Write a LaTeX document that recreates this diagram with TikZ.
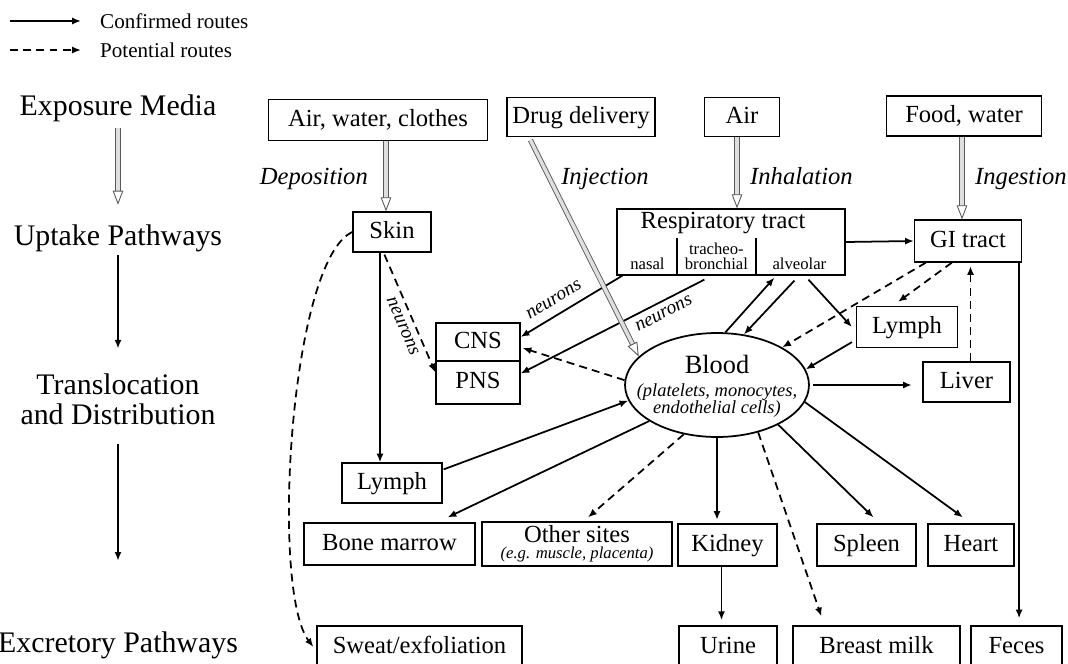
\documentclass[tikz,border=0pt]{standalone}
\usepackage{fontspec}
\setmainfont{Liberation Serif}
\usetikzlibrary{arrows.meta, calc, shapes.geometric}

\tikzset{
  box/.style={draw, line width=0.7pt, inner sep=0pt, text height=10pt, text depth=3pt,
    font=\fontsize{14}{16}\selectfont},
  stage/.style={font=\fontsize{17}{17}\selectfont, align=center, inner sep=2pt},
  route/.style={font=\itshape\fontsize{14}{16}\selectfont, text height=10pt, text depth=3pt},
  sublbl/.style={font=\fontsize{9.5}{8.5}\selectfont, align=center, inner sep=0pt},
  nrn/.style={font=\itshape\fontsize{11}{12}\selectfont, inner sep=3.5pt},
  conf/.style={line width=1pt, -{Latex[length=5pt,width=4pt]}},
  pot/.style={conf, dash pattern=on 4.5pt off 3pt},
  uptake/.style={draw=gray!70!black, line width=0.5pt, double=gray!25, double distance=2pt,
    -{Triangle[open, length=8pt, width=6pt]}},
}

\begin{document}
\begin{tikzpicture}[x=0.02cm, y=-0.02cm]
  \useasboundingbox (0,0) rectangle (1068,663);
  \clip (0,0) rectangle (1068,663);

  % Legend
  \coordinate (legConfA) at (10,21);
  \coordinate (legConfB) at (81,21);
  \coordinate (legPotA) at (10,50);
  \coordinate (legPotB) at (81,50);
  \draw[conf] (legConfA) -- (legConfB);
  \draw[pot] (legPotA) -- (legPotB);
  \node[anchor=west, font=\fontsize{12}{14}\selectfont] (legConf) at (94,21) {Confirmed routes};
  \node[anchor=west, font=\fontsize{12}{14}\selectfont] (legPot) at (94,50) {Potential routes};

  % Stages (left column)
  \node[stage] (stExp) at (118,108.5) {Exposure Media};
  \node[stage] (stUp) at (118,238) {Uptake Pathways};
  \node[stage] (stTrans) at (118,399) {Translocation\\and Distribution};
  \node[stage] (stExc) at (118,645) {Excretory Pathways};
  \draw[uptake, shorten <=1pt, shorten >=9pt] (stExp) -- (stUp);
  \draw[conf, shorten >=12pt] (stUp) -- (stTrans);
  \draw[conf, shorten <=9pt, shorten >=38pt] (stTrans) -- (stExc);

  % Exposure media
  \node[box, minimum width=4.38cm, minimum height=0.82cm] (airwc) at (378,120) {Air, water, clothes};
  \node[box, minimum width=2.96cm, minimum height=0.78cm] (drug) at (581,117) {Drug delivery};
  \node[box, minimum width=1.5cm, minimum height=0.78cm] (air) at (742,117) {Air};
  \node[box, minimum width=3.1cm, minimum height=0.8cm] (food) at (964,116) {Food, water};

  % Route labels
  \node[route, anchor=east] (lDep) at (374,178) {Deposition};
  \node[route] (lInj) at (605,178) {Injection};
  \node[route, anchor=west] (lInh) at (744,178) {Inhalation};
  \node[route, anchor=west] (lIng) at (969,178) {Ingestion};

  % Uptake pathways
  \node[box, minimum width=1.56cm, minimum height=0.8cm] (skin) at (392,232) {Skin};
  \node[box, minimum width=4.56cm, minimum height=1.32cm] (resp) at (731,242) {};
  \node[inner sep=0pt, font=\fontsize{14}{16}\selectfont] (respT) at ($(resp.north)+(-8,15)$) {Respiratory tract};
  \draw[line width=1.2pt] ($(resp.south west)+(61,0)$) -- ++(0,-38);
  \draw[line width=1.2pt] ($(resp.south west)+(140,0)$) -- ++(0,-38);
  \node[sublbl] (nasal) at ($(resp.south west)+(31,-12)$) {nasal};
  \node[sublbl] (trach) at ($(resp.south west)+(100,-19)$) {tracheo-\\bronchial};
  \node[sublbl] (alv) at ($(resp.south west)+(183,-12)$) {alveolar};
  \node[box, minimum width=2.14cm, minimum height=0.84cm] (gi) at (968,241) {GI tract};

  % Translocation and distribution
  \node[box, minimum width=1.68cm, minimum height=0.76cm] (cns) at (478,342) {CNS};
  \node[box, minimum width=1.68cm, minimum height=0.86cm] (pns) at (478,382.5) {PNS};
  \node[draw, ellipse, line width=1pt, minimum width=3.68cm, minimum height=2.08cm, inner sep=0pt] (blood) at (717,385) {};
  \node[align=center, inner sep=0pt, font=\fontsize{15}{16}\selectfont] (bloodT) at (717,386)
    {Blood\\[-3pt]{\itshape\fontsize{10.5}{10}\selectfont (platelets, monocytes,}\\[-6.4pt]{\itshape\fontsize{10.5}{10}\selectfont endothelial cells)}};
  \node[box, minimum width=2.02cm, minimum height=0.82cm] (lymphA) at (907,327) {Lymph};
  \node[box, minimum width=1.74cm, minimum height=0.8cm] (liver) at (966.5,382) {Liver};
  \node[box, minimum width=2cm, minimum height=0.8cm] (lymphB) at (392,483) {Lymph};
  \node[box, minimum width=3.42cm, minimum height=0.84cm] (bone) at (389.5,544) {Bone marrow};
  \node[box, minimum width=3.8cm, minimum height=0.88cm, text height=, text depth=, align=center] (other) at (577,544)
    {Other sites\\[-7pt]{\itshape\fontsize{9.5}{9}\selectfont (e.g. muscle, placenta)}};
  \node[box, minimum width=1.98cm, minimum height=0.84cm] (kidney) at (727.5,545) {Kidney};
  \node[box, minimum width=1.98cm, minimum height=0.84cm] (spleen) at (866.5,545) {Spleen};
  \node[box, minimum width=1.72cm, minimum height=0.84cm] (heart) at (971,545) {Heart};

  % Excretory pathways
  \node[box, minimum width=4.1cm, minimum height=0.84cm] (sweat) at (419.5,647) {Sweat/exfoliation};
  \node[box, minimum width=1.96cm, minimum height=0.84cm] (urine) at (728,647) {Urine};
  \node[box, minimum width=3.34cm, minimum height=0.84cm] (milk) at (876.5,647) {Breast milk};
  \node[box, minimum width=1.82cm, minimum height=0.84cm] (feces) at (1016.5,647) {Feces};

  % Uptake arrows
  \draw[uptake] ($(airwc.south)+(8,0)$) -- ($(skin.north)+(-6,0)$);
  \draw[uptake] ($(air.south)+(-5,0)$) -- ($(resp.north)+(6,0)$);
  \draw[uptake] ($(food.south)+(-2,0)$) -- ($(gi.north)+(-6,0)$);

  % Skin routes
  \draw[conf] ($(skin.south)+(-12,0)$) -- ($(lymphB.north)+(-12,0)$);
  \draw[pot] ($(skin.south west)+(32,2)$) -- node[nrn, sloped, below, pos=0.57] {neurons} ($(pns.west)+(0,-10)$);
  \draw[pot] (skin.west) .. controls (290,260) and (270,590) .. ($(sweat.west)+(-3,0)$);

  % Respiratory routes
  \draw[conf] (resp.east) -- (gi.west);
  \draw[conf] ($(resp.south west)+(6,0)$) -- node[nrn, sloped, above, pos=0.6, inner sep=5pt] {neurons} ($(cns.east)+(0,-5)$);
  \draw[conf] ($(resp.south west)+(88,4)$) -- node[nrn, sloped, below, pos=0.25] {neurons} ($(pns.east)+(0,-9)$);
  \draw[conf] (blood.81) -- ($(resp.south west)+(158,2)$);
  \draw[conf] ($(resp.south west)+(178,5)$) -- (blood.62);
  \draw[conf] ($(resp.south west)+(192,4)$) -- ($(lymphA.west)+(-4,0)$);

  % GI routes
  \coordinate (livTop) at ($(liver.north)+(4,0)$);
  \coordinate (giOut) at ($(gi.south east)+(-3,0)$);
  \draw[pot] ($(gi.south west)+(12,0)$) -- (blood.30);
  \draw[pot] ($(gi.south west)+(38,0)$) -- ($(lymphA.north)+(-9,-4)$);
  \draw[pot, shorten >=2pt] (livTop) -- (livTop |- gi.south);
  \draw[conf, shorten >=4pt] (giOut) -- (giOut |- feces.north);

  % Blood routes
  \coordinate (kidOut) at ($(kidney.south)+(-6,0)$);
  \draw[conf] ($(lymphA.south west)+(-4,-6)$) -- (blood.10);
  \draw[conf, shorten <=2pt, shorten >=6pt] (blood.east) -- (blood.east -| liver.west);
  \draw[conf] (blood.-11) -- ($(heart.north)+(-8,-6)$);
  \draw[conf] (blood.-33) -- ($(spleen.north)+(7,-6)$);
  \draw[pot] (blood.-49) -- ($(milk.north west)+(29,-9)$);
  \draw[conf, shorten >=2pt] (blood.south) -- (blood.south |- kidney.north);
  \draw[conf, shorten >=3pt] (kidOut) -- (kidOut |- urine.north);
  \draw[pot] (blood.236) -- ($(other.north)+(11,-4)$);
  \draw[conf] (blood.208) -- ($(bone.north)+(58,-5)$);
  \draw[conf] ($(lymphB.north east)+(1,7)$) -- (blood.190);
  \draw[pot] (blood.177) -- ($(cns.east)+(2,6)$);

  % Injection
  \draw[uptake] ($(drug.south west)+(24,3)$) -- (blood.160);
\end{tikzpicture}
\end{document}
